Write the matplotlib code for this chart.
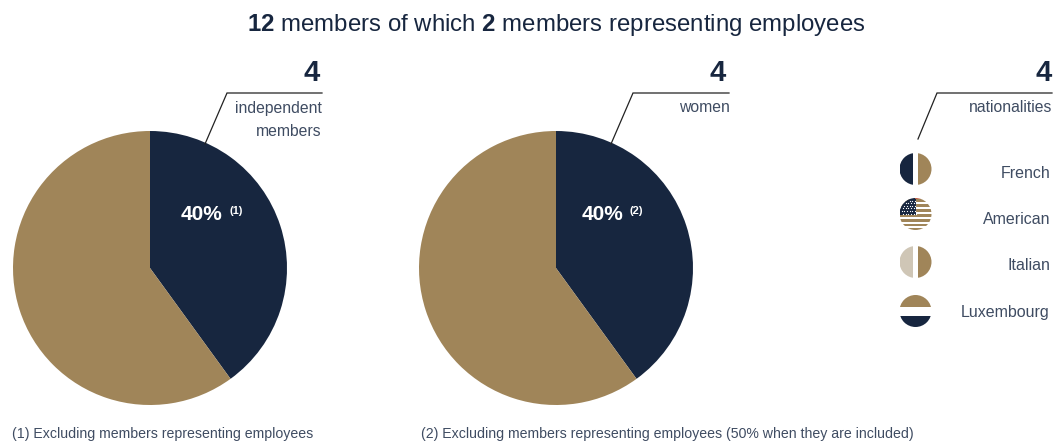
import matplotlib
matplotlib.use('Agg')
import matplotlib.pyplot as plt
from matplotlib.patches import Circle, Rectangle

W, H = 1053, 446
navy = '#17263f'
tan = '#a08559'
beige = '#cfc6b6'
grey = '#3f4c62'

plt.rcParams['font.family'] = ['Liberation Sans', 'DejaVu Sans']
plt.rcParams['mathtext.fontset'] = 'custom'
plt.rcParams['mathtext.rm'] = 'Liberation Sans'
plt.rcParams['mathtext.bf'] = 'Liberation Sans:bold'

# data
pie_values = [40, 60]
pie_colors = [navy, tan]
pie_centers = [150, 556]
pie_labels = ['40%', '40%']
pie_label_x = [181, 582]
pie_notes = ['(1)', '(2)']
pie_note_x = [229, 630]
count_values = ['4', '4', '4']
count_right = [320, 726, 1052]
count_labels = ['independent\nmembers', 'women', 'nationalities']
label_right = [322, 730, 1052]
nationalities = ['French', 'American', 'Italian', 'Luxembourg']
nat_y = [169, 214, 262, 311]
nat_label_y = [174, 220, 266, 313]
footnotes = ['(1) Excluding members representing employees',
             '(2) Excluding members representing employees (50% when they are included)']
foot_x = [12, 421]


def Y(py):
    # picture pixels count from the top
    return H - py


fig = plt.figure(figsize=(W / 100, H / 100), dpi=100)
ax = fig.add_axes([0, 0, 1, 1])

for cx in pie_centers:
    ax.pie(pie_values, colors=pie_colors, startangle=90, counterclock=False,
           center=(cx, Y(268)), radius=137)

ax.set_xlim(0, W)
ax.set_ylim(0, H)
ax.set_aspect('equal')
ax.axis('off')

ax.text(556, Y(25.5), r'$\mathbf{12}$ members of which $\mathbf{2}$ members representing employees',
        fontsize=17.3, color=navy, ha='center', va='center')

# leader lines
leaders = [[(205, 144), (227, 93), (322, 93)],
           [(611, 144), (633, 93), (729, 93)],
           [(918, 139), (937, 93), (1052, 93)]]
for pts in leaders:
    ax.plot([p[0] for p in pts], [Y(p[1]) for p in pts], color='#222222', lw=0.9,
            solid_joinstyle='miter', zorder=3)

for right, val in zip(count_right, count_values):
    ax.text(right, Y(73), val, fontsize=21, fontweight='bold', color=navy,
            ha='right', va='center')

for right, lab in zip(label_right, count_labels):
    ax.text(right, Y(100.5), lab, fontsize=11.3, color=grey, ha='right', va='top',
            linespacing=1.75)

for lx, nx, lab, note in zip(pie_label_x, pie_note_x, pie_labels, pie_notes):
    ax.text(lx, Y(215), lab, fontsize=15, fontweight='bold', color='white',
            ha='left', va='center')
    ax.text(nx, Y(211.5), note, fontsize=8, fontweight='bold', color='white',
            ha='left', va='center')

for lab, y in zip(nationalities, nat_label_y):
    ax.text(1050, Y(y), lab, fontsize=11.5, color=grey, ha='right', va='center')

for x, t in zip(foot_x, footnotes):
    ax.text(x, Y(434), t, fontsize=10.2, color=grey, ha='left', va='center')


# icons
ix = 915.5
r = 16


def icon_clip(y):
    c = Circle((ix, Y(y)), r, transform=ax.transData)
    return c


def clipped_rect(x0, y0, x1, y1, color, y):
    rect = Rectangle((x0, Y(y1)), x1 - x0, y1 - y0, color=color, lw=0, zorder=4)
    ax.add_patch(rect)
    rect.set_clip_path(icon_clip(y))


def split_icon(y, left):
    clipped_rect(ix - r, y - r, ix - 2.3, y + r, left, y)
    clipped_rect(ix + 2.3, y - r, ix + r, y + r, tan, y)


split_icon(nat_y[0], navy)
split_icon(nat_y[2], beige)

# luxembourg
y = nat_y[3]
clipped_rect(ix - r, y - r, ix + r, y - 4.5, tan, y)
clipped_rect(ix - r, y + 5, ix + r, y + r, navy, y)

# american flag
y = nat_y[1]
for k in range(7):
    top = y - r + 1 + k * 4.9
    clipped_rect(ix - r, top, ix + r, top + 2.9, tan, y)
clipped_rect(ix - r, y - r, ix, y + 1, navy, y)
clipped_rect(ix - 0.5, y - r, ix + 5, y - r + 1, '#c0604a', y)
for row in range(6):
    for col in range(6):
        sx = ix - 14 + col * 2.7 + (row % 2) * 1.3
        sy = y - 13.5 + row * 2.6
        if (sx - ix) ** 2 + (sy - y) ** 2 < (r - 1) ** 2:
            ax.plot(sx, Y(sy), 'o', ms=0.9, color='white', mew=0, zorder=5)

fig.savefig('out.png', dpi=100)
